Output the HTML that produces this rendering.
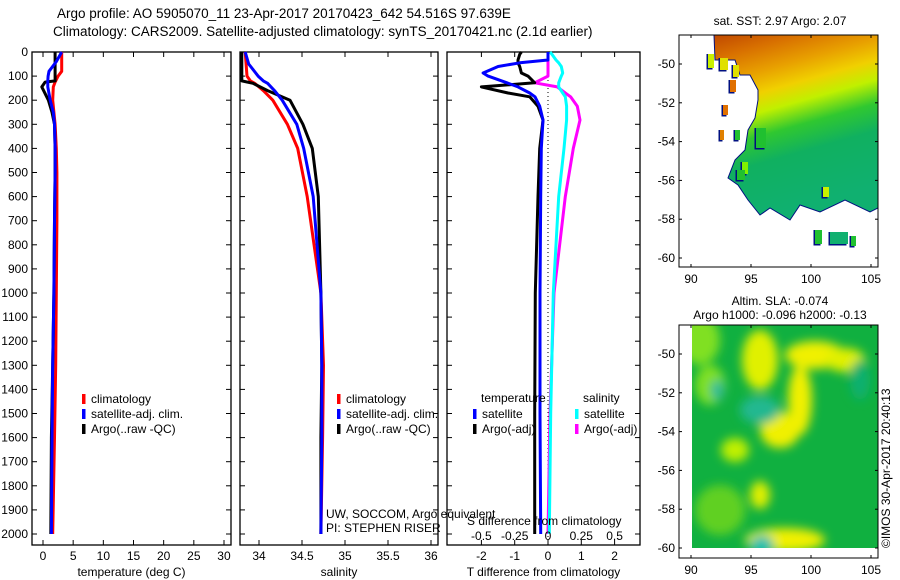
<!DOCTYPE html>
<html><head><meta charset="utf-8"><style>
body{margin:0;background:#fff;}
svg{display:block;font-family:"Liberation Sans",sans-serif;}
</style></head><body>
<svg id="c" width="900" height="580" xmlns="http://www.w3.org/2000/svg">
<defs>
<linearGradient id="sstg" x1="0" y1="0" x2="0.25" y2="1">
<stop offset="0" stop-color="#c04800"/><stop offset="0.12" stop-color="#d87000"/><stop offset="0.25" stop-color="#e8a000"/><stop offset="0.36" stop-color="#f0d000"/><stop offset="0.46" stop-color="#c0f000"/><stop offset="0.58" stop-color="#30c830"/><stop offset="0.72" stop-color="#10b060"/><stop offset="1" stop-color="#10b070"/>
</linearGradient>
<filter id="blur"><feGaussianBlur stdDeviation="5"/></filter>
<clipPath id="slaclip"><rect x="692" y="325" width="186" height="223"/></clipPath>
<clipPath id="sstclip"><rect x="679" y="35" width="199" height="232"/></clipPath>
</defs>
<g id="root"></g>
</svg>
<script>
// ---- data ----
const depthT = [0,40,80,100,120,125,145,200,250,300,400,500,700,1000,1300,1600,2000];
const tempClim = [3.1,3.1,3.1,2.5,2.1,2.0,1.7,1.6,1.8,2.0,2.2,2.3,2.3,2.2,2.1,1.9,1.6];
const tempSat  = [3.1,2.2,1.0,0.85,0.8,0.8,0.8,1.2,1.7,1.9,2.0,2.0,1.9,1.8,1.6,1.5,1.4];
const tempArgo = [2.0,2.0,2.0,2.0,2.0,0.35,-0.2,0.9,1.5,1.9,2.0,2.0,1.9,1.8,1.6,1.4,1.3];
const depthS = [0,50,100,120,130,160,200,300,400,600,1000,1300,1600,2000];
const salClim = [33.84,33.85,33.86,33.9,33.95,34.05,34.16,34.33,34.45,34.56,34.72,34.75,34.74,34.72];
const salSat  = [33.84,33.88,33.99,34.05,34.1,34.18,34.27,34.44,34.52,34.63,34.72,34.73,34.73,34.72];
const salArgo = [33.8,33.8,33.8,33.8,33.93,34.1,34.36,34.51,34.62,34.69,34.72,34.73,34.72,34.72];
const depthD = [0,10,33,45,60,87,100,128,145,170,186,225,282,400,600,1000,1500,2000];
const dTsat  = [0,0,0,-0.84,-1.5,-1.95,-1.8,-1.23,-0.9,-0.55,-0.39,-0.25,-0.15,-0.2,-0.22,-0.24,-0.24,-0.22];
const dTargo = [-0.8,-0.85,-0.9,-0.9,-0.85,-0.8,-0.6,-0.4,-2.0,-1.2,-0.55,-0.3,-0.15,-0.25,-0.3,-0.38,-0.4,-0.4];
const dSsat  = [0.015,0.03,0.06,0.08,0.1,0.11,0.1,0.08,0.08,0.11,0.13,0.14,0.14,0.12,0.08,0.04,0.02,0.01];
const dSargo = [0,0,0,0,0,0,0,-0.1,0.07,0.13,0.17,0.22,0.24,0.19,0.13,0.045,0.015,0];
const depthTicks = [0,100,200,300,400,500,600,700,800,900,1000,1100,1200,1300,1400,1500,1600,1700,1800,1900,2000];
const tTicks = [0,5,10,15,20,25,30];
const sTicks = [34,34.5,35,35.5,36];
const dTticks = [-2,-1,0,1,2];
const dSticks = [-0.5,-0.25,0,0.25,0.5];
const lonTicks = [90,95,100,105];
const latTicks = [-50,-52,-54,-56,-58,-60];

const NS="http://www.w3.org/2000/svg";
const root=document.getElementById('root');
function mk(tag,attrs,parent,text){const e=document.createElementNS(NS,tag);for(const k in attrs)e.setAttribute(k,attrs[k]);if(text!==undefined)e.textContent=text;(parent||root).appendChild(e);return e;}
const yD=d=>52+d*0.241;
const topY=52,botY=545;
const xT=v=>43+v*6.033;
const xS=v=>259+(v-34)*86;
const xDT=v=>548+v*33.3;
const xDS=v=>548+v*133.2;

// titles
let t=mk('text',{x:57,y:18,'font-size':13.5});
t.textContent='Argo profile: AO 5905070_11 23-Apr-2017 20170423_642 54.516S 97.639E';


t=mk('text',{x:53,y:36,'font-size':13.5});
t.textContent='Climatology: CARS2009. Satellite-adjusted climatology: synTS_20170421.nc (2.1d earlier)';



function panel(name,x0,x1,ticksX,fx,labels,xtitle){
  const g=mk('g',{});
  
  
  mk('rect',{x:x0,y:topY,width:x1-x0,height:botY-topY,fill:'none',stroke:'#000','stroke-width':1.3},g);
  ticksX.forEach((v,i)=>{const x=fx(v);
    mk('line',{x1:x,x2:x,y1:topY,y2:topY+5,stroke:'#000'},g);
    mk('line',{x1:x,x2:x,y1:botY,y2:botY-5,stroke:'#000'},g);
    if(labels){const l=mk('text',{x:x,y:560,'font-size':12,'text-anchor':'middle'},g,labels[i]);
      
      }
  });
  depthTicks.forEach(d=>{const y=yD(d);
    mk('line',{x1:x0,x2:x0+5,y1:y,y2:y,stroke:'#000'},g);
    mk('line',{x1:x1,x2:x1-5,y1:y,y2:y,stroke:'#000'},g);});
  const xt=mk('text',{x:(x0+x1)/2,y:576,'font-size':12,'text-anchor':'middle'},g,xtitle);
  
  
  return g;
}
function line(g,name,depths,vals,fx,color,extra){
  const pts=depths.map((d,i)=>fx(vals[i]).toFixed(1)+','+yD(d).toFixed(1)).join(' ');
  const p=mk('polyline',Object.assign({points:pts,fill:'none',stroke:color,'stroke-width':3,'stroke-linejoin':'round'},extra||{}),g);
  
  
}
function legend(g,x,y,color,label){
  mk('rect',{x:x,y:y-9,width:3.5,height:10,fill:color},g);
  const l=mk('text',{x:x+9,y:y,'font-size':12},g,label);
  
  
}

// panel 1
let g1=panel('temperature-panel',32,231,tTicks,xT,tTicks.map(String),'temperature (deg C)');
depthTicks.forEach(d=>{const l=mk('text',{x:28,y:yD(d)+4,'font-size':12,'text-anchor':'end'},g1,String(d));
  
  });
line(g1,'temp-climatology-line',depthT,tempClim,xT,'#f00');
line(g1,'temp-argo-line',depthT,tempArgo,xT,'#000');
line(g1,'temp-satellite-line',depthT,tempSat,xT,'#00f');
legend(g1,82,403,'#f00','climatology');
legend(g1,82,418,'#00f','satellite-adj. clim.');
legend(g1,82,433,'#000','Argo(..raw -QC)');

// panel 2
let g2=panel('salinity-panel',240,438,sTicks,xS,['34','34.5','35','35.5','36'],'salinity');
line(g2,'sal-climatology-line',depthS,salClim,xS,'#f00');
line(g2,'sal-argo-line',depthS,salArgo,xS,'#000');
line(g2,'sal-satellite-line',depthS,salSat,xS,'#00f');
legend(g2,337,403,'#f00','climatology');
legend(g2,337,418,'#00f','satellite-adj. clim.');
legend(g2,337,433,'#000','Argo(..raw -QC)');
mk('text',{x:326,y:518,'font-size':12},g2,'UW, SOCCOM, Argo equivalent');
mk('text',{x:326,y:532,'font-size':12},g2,'PI: STEPHEN RISER');

// panel 3
let g3=panel('difference-panel',447,640,dTticks,xDT,dTticks.map(String),'T difference from climatology');
mk('line',{x1:xDT(0),x2:xDT(0),y1:topY,y2:botY,stroke:'#000','stroke-dasharray':'1,3'},g3);
line(g3,'dS-argo-line',depthD,dSargo,xDS,'#f0f');
line(g3,'dS-satellite-line',depthD,dSsat,xDS,'#0ff');
line(g3,'dT-argo-line',depthD,dTargo,xDT,'#000');
line(g3,'dT-satellite-line',depthD,dTsat,xDT,'#00f');
mk('text',{x:481,y:402,'font-size':12},g3,'temperature');
mk('text',{x:583,y:402,'font-size':12},g3,'salinity');
legend(g3,473,418,'#00f','satellite');
legend(g3,473,433,'#000','Argo(-adj)');
legend(g3,575,418,'#0ff','satellite');
legend(g3,575,433,'#f0f','Argo(-adj)');
mk('text',{x:467,y:525,'font-size':12},g3,'S difference from climatology');
dSticks.forEach(v=>{mk('text',{x:xDS(v),y:540,'font-size':12,'text-anchor':'middle'},g3,String(v));});

// maps
const xLon=v=>691+(v-90)*12;
function mapAxes(name,y0,y1,latY,title1,title2){
  const g=mk('g',{});
  
  
  mk('rect',{x:679,y:y0,width:199,height:y1-y0,fill:'none',stroke:'#000','stroke-width':1},g);
  lonTicks.forEach(v=>{const x=xLon(v);
    mk('line',{x1:x,x2:x,y1:y0,y2:y0+3,stroke:'#000'},g);
    mk('line',{x1:x,x2:x,y1:y1,y2:y1-3,stroke:'#000'},g);
    mk('text',{x:x,y:y1+16,'font-size':12,'text-anchor':'middle'},g,String(v));});
  latTicks.forEach(v=>{const y=latY(v);
    mk('line',{x1:679,x2:682,y1:y,y2:y,stroke:'#000'},g);
    mk('line',{x1:878,x2:875,y1:y,y2:y,stroke:'#000'},g);
    mk('text',{x:675,y:y+4,'font-size':12,'text-anchor':'end'},g,String(v));});
  mk('text',{x:780,y:title2?y0-20:y0-10,'font-size':12,'text-anchor':'middle'},g,title1);
  if(title2)mk('text',{x:780,y:y0-6,'font-size':12,'text-anchor':'middle'},g,title2);
  return g;
}
const latA=v=>64+(-50-v)*19.4;
const latB=v=>354+(-50-v)*19.4;
// SST map fill
let gs=mk('g',{'clip-path':'url(#sstclip)'});


mk('path',{d:'M714,35 L878,35 L878,208 L870,212 L845,200 L820,212 L800,205 L790,220 L770,208 L760,215 L748,200 L738,185 L728,178 L735,160 L745,150 L748,130 L755,118 L758,100 L758,90 L750,75 L740,75 L735,60 L715,60 Z',fill:'url(#sstg)',stroke:'#001080','stroke-width':1},gs);
[[708,54,6,14,'#c8f000'],[720,58,8,12,'#e0e000'],[733,65,6,12,'#e0e000'],[730,80,6,12,'#e07000'],[723,105,5,10,'#e07000'],[735,130,5,10,'#20c030'],[720,130,4,10,'#e08000'],[742,162,6,12,'#80f000'],[737,170,8,10,'#20c030'],[823,187,6,10,'#c8f000'],[815,230,7,14,'#20c030'],[830,232,18,12,'#10b070'],[851,236,5,10,'#20c030'],[756,128,10,20,'#20c030']].forEach(r=>{
  mk('rect',{x:r[0]-1.5,y:r[1],width:r[2],height:r[3]+1.5,fill:'#001080'},gs);
  mk('rect',{x:r[0],y:r[1],width:r[2],height:r[3],fill:r[4]},gs);});
mapAxes('sst-map',35,267,latA,'sat. SST: 2.97 Argo: 2.07');
// SLA map
let gl=mk('g',{'clip-path':'url(#slaclip)'});


mk('rect',{x:692,y:325,width:186,height:223,fill:'#10b040'},gl);
const gb=mk('g',{filter:'url(#blur)'},gl);
[[700,340,20,25,'#80e020'],[760,360,18,30,'#e0f000'],[815,355,30,14,'#f0f000'],[845,360,20,12,'#e0f000'],[780,430,20,18,'#f0f000'],[800,400,12,35,'#f0f000'],[735,450,14,12,'#c0f000'],[760,495,10,14,'#e0f000'],[785,540,40,12,'#f0f000'],[720,510,25,25,'#60d020'],[710,385,15,20,'#80e020'],[860,380,10,20,'#10b070'],[760,410,20,14,'#20b890'],[762,545,12,10,'#20c0b0'],[717,390,6,10,'#20b8a0']].forEach(e=>mk('ellipse',{cx:e[0],cy:e[1],rx:e[2],ry:e[3],fill:e[4]},gb));
mk('rect',{x:679,y:325,width:13,height:233,fill:'#fff'});
mk('rect',{x:692,y:548,width:186,height:10,fill:'#fff'});
mapAxes('sla-map',325,558,latB,'Altim. SLA: -0.074','Argo h1000: -0.096 h2000: -0.13');
let cp=mk('text',{x:890,y:548,'font-size':12,transform:'rotate(-90 890 548)'},root,'©IMOS 30-Apr-2017 20:40:13');


</script>
</body></html>
